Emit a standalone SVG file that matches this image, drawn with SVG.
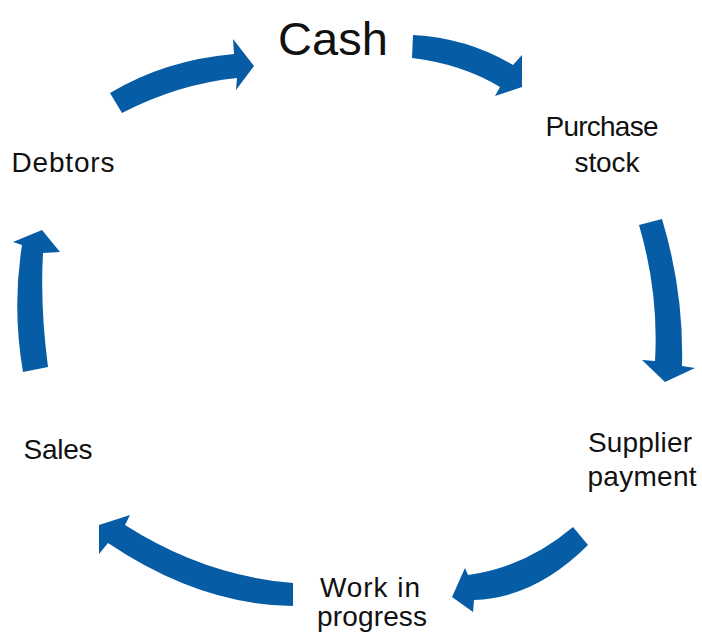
<svg xmlns="http://www.w3.org/2000/svg" width="702" height="632" viewBox="0 0 702 632">
<style>
.arrow{fill:#065CA5;stroke:none}
.lbl{font-family:"Liberation Sans","Helvetica",Arial,sans-serif;font-size:28px;fill:#111;text-anchor:middle}
.big{font-size:47px}
</style>
<rect width="702" height="632" fill="#fff"/>
<g id="connectors">
<path id="a-debtors-cash" class="arrow" d="M110,93 Q165,60 234,54 L233,39 L254,66 L236,90 L237,78 Q178,84 122,113 Z"/>
<path id="a-cash-purchase" class="arrow" d="M413,35 Q468,38 513,65 L522,55 L522,87 L495,96 L500,87 Q462,64 412,58 Z"/>
<path id="a-purchase-supplier" class="arrow" d="M639,225 Q659,293 655,361 L642,360 L665,382 L695,368 L682,366 Q684,292 662,219 Z"/>
<path id="a-supplier-wip" class="arrow" d="M573,527 Q526,567 468,575 L465,568 L452,597 L473,612 L474,600 Q535,598 588,545 Z"/>
<path id="a-wip-sales" class="arrow" d="M293,583 Q205,576 125,525 L130,515 L99,525 L99,554 L108,543 Q200,605 293,606 Z"/>
<path id="a-sales-debtors" class="arrow" d="M23,372 Q12,308 22,245 L13,242 L42,230 L60,252 L43,253 Q40,306 48,367 Z"/>
</g>
<g id="cash"><text class="lbl big" x="333" y="55" textLength="110" lengthAdjust="spacing">Cash</text></g>
<g id="purchase-stock"><text class="lbl" x="602" y="136" textLength="113" lengthAdjust="spacing">Purchase</text><text class="lbl" x="607" y="172" textLength="65" lengthAdjust="spacing">stock</text></g>
<g id="supplier-payment"><text class="lbl" x="640" y="452" textLength="104" lengthAdjust="spacing">Supplier</text><text class="lbl" x="642" y="486" textLength="109" lengthAdjust="spacing">payment</text></g>
<g id="work-in-progress"><text class="lbl" x="370" y="597" textLength="100" lengthAdjust="spacing">Work in</text><text class="lbl" x="372" y="626" textLength="110" lengthAdjust="spacing">progress</text></g>
<g id="sales"><text class="lbl" x="58" y="459" textLength="69" lengthAdjust="spacing">Sales</text></g>
<g id="debtors"><text class="lbl" x="63" y="172" textLength="103" lengthAdjust="spacing">Debtors</text></g>
</svg>
